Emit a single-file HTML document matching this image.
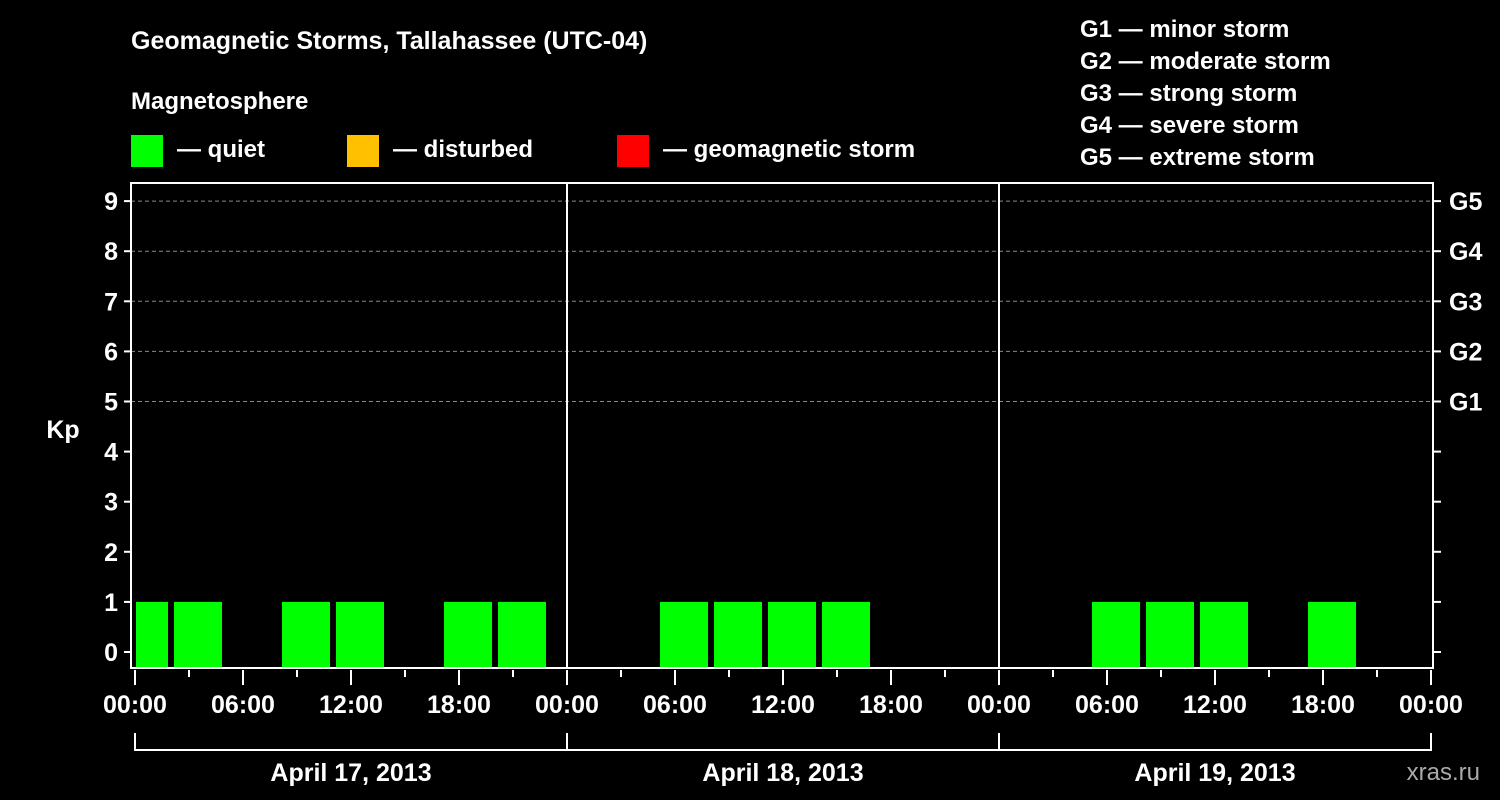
<!DOCTYPE html>
<html><head><meta charset="utf-8"><style>
html,body{margin:0;padding:0;background:#000;width:1500px;height:800px;overflow:hidden}
svg text{font-family:"Liberation Sans",Arial,sans-serif;font-weight:bold;fill:#fff}
</style></head><body>
<svg id="chart" width="1500" height="800" xmlns="http://www.w3.org/2000/svg">
<text x="131" y="49" font-size="25">Geomagnetic Storms, Tallahassee (UTC-04)</text>
<text x="131" y="109" font-size="24">Magnetosphere</text>
<g>
<rect x="131" y="135" width="32" height="32" fill="#00ff00"/>
<text x="177" y="157" font-size="24">— quiet</text>
<rect x="347" y="135" width="32" height="32" fill="#ffc000"/>
<text x="393" y="157" font-size="24">— disturbed</text>
<rect x="617" y="135" width="32" height="32" fill="#ff0000"/>
<text x="663" y="157" font-size="24">— geomagnetic storm</text>
</g>
<g font-size="24">
<text x="1080" y="37">G1 — minor storm</text>
<text x="1080" y="69">G2 — moderate storm</text>
<text x="1080" y="101">G3 — strong storm</text>
<text x="1080" y="133">G4 — severe storm</text>
<text x="1080" y="165">G5 — extreme storm</text>
</g>
<text x="63" y="438" font-size="25" text-anchor="middle">Kp</text>
<text x="1480" y="780" font-size="24" text-anchor="end" fill="#aaa" style="fill:#aaaaaa;font-weight:normal">xras.ru</text>
<g id="grid"></g><g id="bars"></g><g id="axes"></g>
</svg>
<script>
const kpValues=[1,1,0,1,1,0,1,1, 0,0,1,1,1,1,0,0, 0,0,1,1,1,0,1,0,0];
const slotStartHours=[-1,2,5,8,11,14,17,20,23,26,29,32,35,38,41,44,47,50,53,56,59,62,65,68,71];
const dayLabels=["April 17, 2013","April 18, 2013","April 19, 2013"];
const kpTicks=[0,1,2,3,4,5,6,7,8,9];
const gLabels=["G1","G2","G3","G4","G5"];
const timeLabels=["00:00","06:00","12:00","18:00"];
const NS="http://www.w3.org/2000/svg";
const L=131,R=1433,T=183,B=668;
const x=h=>135+h*18;
const y=k=>652-k*50.1;
function mk(tag,attrs,parent,text){const e=document.createElementNS(NS,tag);for(const k in attrs)e.setAttribute(k,attrs[k]);if(text!=null)e.textContent=text;document.getElementById(parent).appendChild(e);return e;}
// grid
for(let k=5;k<=9;k++){const e=mk('line',{x1:L,x2:R,y1:y(k),y2:y(k),stroke:'#888','stroke-dasharray':'4,3','stroke-width':1},'grid');

}
// bars
const colors=k=>k>=5?'#ff0000':(k>=4?'#ffc000':'#00ff00');
kpValues.forEach((v,i)=>{if(v<=0)return;let x0=Math.max(x(slotStartHours[i])+3,L+5),x1=Math.min(x(slotStartHours[i]+3)-3,R-3);
const e=mk('rect',{x:x0,y:y(v),width:x1-x0,height:B-y(v),fill:colors(v)},'bars');

});
// frame
const f=mk('rect',{x:L,y:T,width:R-L,height:B-T,fill:'none',stroke:'#fff','stroke-width':2},'axes');


for(let d=1;d<3;d++){const e=mk('line',{x1:x(d*24),x2:x(d*24),y1:T,y2:B,stroke:'#fff','stroke-width':2},'axes');

}
kpTicks.forEach(k=>{mk('line',{x1:L-7,x2:L,y1:y(k),y2:y(k),stroke:'#fff','stroke-width':2},'axes');
mk('line',{x1:R,x2:R+8,y1:y(k),y2:y(k),stroke:'#fff','stroke-width':2},'axes');
const t=mk('text',{x:L-13,y:y(k)+9,'font-size':25,'text-anchor':'end'},'axes',String(k));

});
gLabels.forEach((g,i)=>{const t=mk('text',{x:R+16,y:y(i+5)+9,'font-size':25},'axes',g);

});
for(let h=0;h<=72;h+=3){const major=h%6===0;mk('line',{x1:x(h),x2:x(h),y1:B+2,y2:B+(major?17:9),stroke:'#fff','stroke-width':2},'axes');
if(major){const t=mk('text',{x:x(h),y:B+45,'font-size':25,'text-anchor':'middle'},'axes',timeLabels[(h/6)%4]);

}}
dayLabels.forEach((d,i)=>{const a=x(i*24),b=x(i*24+24);
const p=mk('path',{d:`M${a} 733V750H${b}V733`,fill:'none',stroke:'#fff','stroke-width':2},'axes');


const t=mk('text',{x:(a+b)/2,y:781,'font-size':25,'text-anchor':'middle'},'axes',d);

});
</script>
</body></html>
